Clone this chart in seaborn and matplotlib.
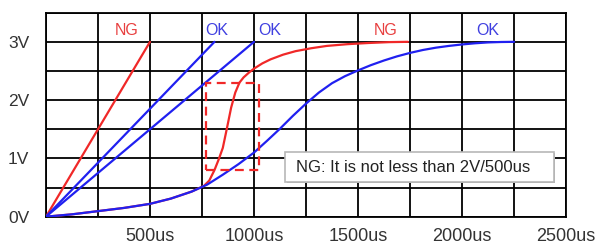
import matplotlib
matplotlib.use("Agg")
import matplotlib.pyplot as plt
import seaborn as sns
import pandas as pd
from matplotlib.patches import Rectangle

# ------------------------------
# Data (x in us, y in V)
# ------------------------------
ng_fast_x = [0, 500]
ng_fast_y = [0, 3.0]

ok_lin1_x = [0, 810]
ok_lin1_y = [0, 3.0]

ok_lin2_x = [0, 1000]
ok_lin2_y = [0, 3.0]

ng_curve_x = [0, 125, 250, 375, 500, 600, 700, 760, 785, 810, 830, 850, 870,
              890, 910, 930, 950, 975, 1000, 1040, 1080, 1140, 1200, 1275,
              1350, 1450, 1550, 1650, 1740]
ng_curve_y = [0, 0.04, 0.095, 0.15, 0.22, 0.31, 0.43, 0.53, 0.62, 0.80, 0.98,
              1.18, 1.52, 1.87, 2.13, 2.30, 2.39, 2.47, 2.54, 2.63, 2.70, 2.78,
              2.84, 2.89, 2.93, 2.96, 2.98, 2.995, 3.0]

ok_curve_x = [0, 125, 250, 375, 500, 600, 700, 775, 850, 925, 1000, 1062,
              1125, 1187, 1250, 1312, 1375, 1437, 1500, 1562, 1625, 1687, 1750,
              1812, 1875, 1937, 2000, 2062, 2125, 2187, 2250]
ok_curve_y = [0, 0.04, 0.095, 0.15, 0.22, 0.31, 0.43, 0.55, 0.72, 0.90, 1.10,
              1.30, 1.51, 1.73, 1.94, 2.13, 2.29, 2.41, 2.51, 2.60, 2.68, 2.75,
              2.81, 2.86, 2.90, 2.93, 2.955, 2.975, 2.99, 2.997, 3.0]

# curve labels (text, x, colour key)
label_text = ["NG", "OK", "OK", "NG", "OK"]
label_x = [390, 822, 1078, 1635, 2122]
label_kind = ["ng", "ok", "ok", "ng", "ok"]

x_ticks = [0, 250, 500, 750, 1000, 1250, 1500, 1750, 2000, 2250, 2500]
y_ticks = [0, 0.5, 1, 1.5, 2, 2.5, 3, 3.5]

note_text = "NG: It is not less than 2V/500us"

RED = "#f02828"
BLUE = "#2020f0"
RED_TXT = "#e84040"
BLUE_TXT = "#4040e0"

# ------------------------------
# Plot
# ------------------------------
sns.set_style("white")
plt.rcParams["font.family"] = ["Liberation Sans", "DejaVu Sans"]

fig = plt.figure(figsize=(5.95, 2.44), dpi=100)
ax = fig.add_axes([0.0773, 0.112, 0.874, 0.836])

series = [
    (ng_curve_x, ng_curve_y, RED),
    (ng_fast_x, ng_fast_y, RED),
    (ok_lin1_x, ok_lin1_y, BLUE),
    (ok_lin2_x, ok_lin2_y, BLUE),
    (ok_curve_x, ok_curve_y, BLUE),
]
for xs, ys, col in series:
    df = pd.DataFrame({"t": xs, "v": ys})
    sns.lineplot(data=df, x="t", y="v", color=col, lw=1.6, ax=ax,
                 sort=False, estimator=None, zorder=3)

# dashed box around the NG step
ax.add_patch(Rectangle((770, 0.8), 255, 1.5, fill=False, ls=(0, (4, 2.5)),
                       lw=1.6, ec=RED, zorder=4))

for txt, x, kind in zip(label_text, label_x, label_kind):
    ax.text(x, 3.2, txt, color=RED_TXT if kind == "ng" else BLUE_TXT,
            fontsize=11.5, ha="center", va="center", zorder=5)

# note box with a small shadow
ax.add_patch(Rectangle((1158, 0.575), 1290, 0.51, fc="#a8a8a8", ec="none", zorder=6))
ax.add_patch(Rectangle((1150, 0.60), 1290, 0.51, fc="white", ec="#b8b8b8",
                       lw=1.2, zorder=7))
ax.text(1202, 0.85, note_text, fontsize=12, color="#222222", va="center",
        ha="left", zorder=8)

ax.set_xlim(0, 2500)
ax.set_ylim(0, 3.5)
ax.set_xticks(x_ticks)
ax.set_yticks(y_ticks)
ax.set_xticklabels([f"{t}us" if t % 500 == 0 and t > 0 else "" for t in x_ticks])
ax.set_yticklabels([f"{int(v)}V" if v == int(v) else "" for v in y_ticks])
ax.tick_params(axis="x", length=0, pad=8, labelsize=13, labelcolor="#333333")
ax.tick_params(axis="y", length=0, pad=12, labelsize=12.5, labelcolor="#333333")
ax.grid(True, color="black", lw=1.3)
ax.set_axisbelow(True)
for s in ax.spines.values():
    s.set_visible(True)
    s.set_color("black")
    s.set_linewidth(1.3)
ax.set_xlabel("")
ax.set_ylabel("")

plt.savefig("out.png", dpi=100)
